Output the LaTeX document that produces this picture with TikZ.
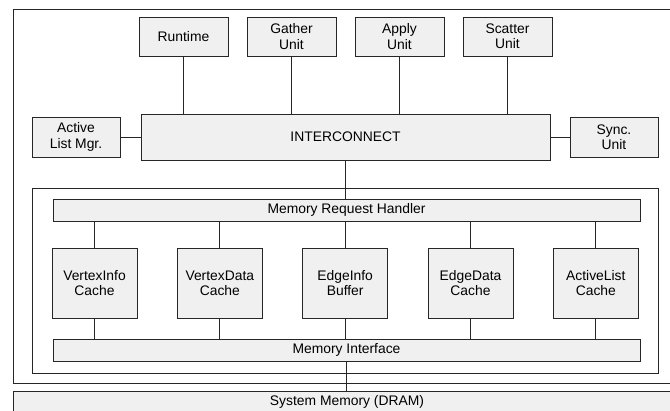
\documentclass[tikz,border=0pt]{standalone}
\usepackage{fontspec}
\setmainfont{Liberation Sans}
\usetikzlibrary{positioning}

\begin{document}
\begin{tikzpicture}[x=0.75pt, y=-0.75pt, node distance=81pt,
	every node/.style={font=\fontsize{10.4}{11.5}\selectfont, align=center},
	blk/.style={draw=black!85, fill=black!6, line width=0.6pt, inner sep=1pt},
	unit/.style={blk, minimum width=66.75pt, minimum height=29.25pt},
	side/.style={blk, minimum width=66pt, minimum height=30pt},
	cache/.style={blk, minimum width=63.75pt, minimum height=52.5pt},
	bar/.style={blk, minimum width=440.25pt, minimum height=16.5pt},
	frame/.style={draw=black!85, line width=0.6pt}]
	\useasboundingbox (0,0) rectangle (670,410);

	% Frames {accelerator, memory subsystem}
	\draw [frame] (13,9) rectangle (680,383);
	\draw [frame] (32,188) rectangle (658,373);

	% Units {Runtime, Gather, Apply, Scatter}
	\node [unit] 	(runtime) at (183.5,36.5) 	{Runtime};
	\node [unit] 	(gather) [right of=runtime] 	{Gather\\Unit};
	\node [unit] 	(apply) [right of=gather] 	{Apply\\Unit};
	\node [unit] 	(scatter) [right of=apply] 	{Scatter\\Unit};

	% Interconnect row
	\node [blk, minimum width=306.75pt, minimum height=34.5pt] (ic) at (345.5,137) {INTERCONNECT};
	\node [side] 	(alm) at (76,137) 	{Active\\List Mgr.};
	\node [side] 	(sync) at (614,137) 	{Sync.\\Unit};

	% Memory subsystem
	\node [bar] 	(mrh) at (346.5,210) 	{Memory Request Handler};
	\node [cache] 	(vic) at (94.5,283) 	{VertexInfo\\Cache};
	\node [cache, node distance=94pt] 	(vdc) [right of=vic] 	{VertexData\\Cache};
	\node [cache, node distance=94pt] 	(eib) [right of=vdc] 	{EdgeInfo\\Buffer};
	\node [cache, node distance=94pt] 	(edc) [right of=eib] 	{EdgeData\\Cache};
	\node [cache, node distance=94pt] 	(alc) [right of=edc] 	{ActiveList\\Cache};
	\node [bar] 	(memif) at (346.5,350) 	{Memory Interface};

	% DRAM
	\node [blk, minimum width=501pt, minimum height=16.5pt] (dram) at (347,402) {System Memory (DRAM)};

	% Paths
	\path [-, draw=black!85, line width=0.6pt]
				(runtime) edge (runtime |- ic.north)
				(gather) edge (gather |- ic.north)
				(apply) edge (apply |- ic.north)
				(scatter) edge (scatter |- ic.north)
				(alm) edge (ic)
				(ic) edge (sync)
				(ic) edge (ic |- mrh.north)
				(vic |- mrh.south) edge (vic)
				(vdc |- mrh.south) edge (vdc)
				(eib |- mrh.south) edge (eib)
				(edc |- mrh.south) edge (edc)
				(alc |- mrh.south) edge (alc)
				(vic) edge (vic |- memif.north)
				(vdc) edge (vdc |- memif.north)
				(eib) edge (eib |- memif.north)
				(edc) edge (edc |- memif.north)
				(alc) edge (alc |- memif.north)
				(memif) edge (memif |- dram.north);
\end{tikzpicture}
\end{document}
